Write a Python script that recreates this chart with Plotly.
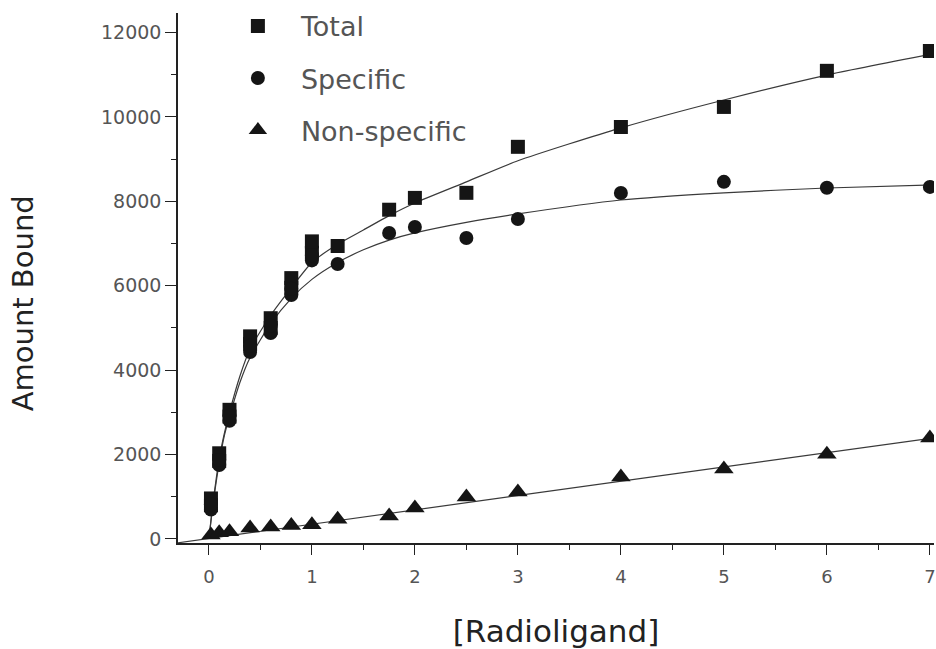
import plotly.graph_objects as go

# ---- data ----
x_total = [0.02, 0.02, 0.1, 0.1, 0.2, 0.2, 0.4, 0.4, 0.6, 0.6, 0.8, 0.8, 1.0, 1.0,
           1.25, 1.75, 2.0, 2.5, 3.0, 4.0, 5.0, 6.0, 7.0]
y_total = [800, 960, 1850, 2030, 2900, 3060, 4620, 4800, 5000, 5230, 5950, 6180, 6780, 7050,
           6940, 7800, 8080, 8200, 9290, 9760, 10235, 11090, 11560]

x_spec = [0.02, 0.02, 0.1, 0.1, 0.2, 0.2, 0.4, 0.4, 0.6, 0.6, 0.8, 0.8, 1.0, 1.0,
          1.25, 1.75, 2.0, 2.5, 3.0, 4.0, 5.0, 6.0, 7.0]
y_spec = [700, 820, 1750, 1870, 2800, 2920, 4430, 4580, 4880, 5050, 5780, 5930, 6600, 6720,
          6515, 7250, 7390, 7130, 7580, 8195, 8460, 8320, 8340]

x_ns = [0.02, 0.1, 0.2, 0.4, 0.6, 0.8, 1.0, 1.25, 1.75, 2.0, 2.5, 3.0, 4.0, 5.0, 6.0, 7.0]
y_ns = [95, 150, 170, 260, 285, 320, 340, 470, 545, 735, 995, 1115, 1470, 1660, 2010, 2390]

# fitted curves
curve_x = [0, 0.02, 0.05, 0.1, 0.15, 0.2, 0.3, 0.4, 0.6, 0.8, 1.0, 1.25, 1.5, 1.75,
           2.0, 2.5, 3.0, 4.0, 5.0, 6.0, 7.05]
curve_total = [0, 450, 1050, 1900, 2500, 3000, 3850, 4500, 5300, 5950, 6550, 6980, 7320, 7660,
               7960, 8460, 8960, 9740, 10400, 10990, 11500]
curve_spec = [0, 420, 1000, 1800, 2450, 2900, 3700, 4300, 5100, 5700, 6150, 6550, 6850, 7080,
              7250, 7500, 7700, 8030, 8200, 8315, 8390]
ns_line_x = [-0.3, 7.05]
ns_line_y = [-90, 2400]

x_ticks = [0, 1, 2, 3, 4, 5, 6, 7]
y_ticks = [0, 2000, 4000, 6000, 8000, 10000, 12000]

names = ["Total", "Specific", "Non-specific"]
x_title = "[Radioligand]"
y_title = "Amount Bound"

INK = "#151515"
LINE = "#3a3a3a"
TXT = "#555555"
FONT = "DejaVu Sans, Liberation Sans, Arial, sans-serif"

fig = go.Figure()

for cx, cy in [(curve_x, curve_total), (curve_x, curve_spec), (ns_line_x, ns_line_y)]:
    fig.add_trace(go.Scatter(x=cx, y=cy, mode="lines",
                             line=dict(color=LINE, width=1.2, shape="spline", smoothing=0.6),
                             showlegend=False, hoverinfo="skip"))

fig.add_trace(go.Scatter(x=x_total, y=y_total, mode="markers", name=names[0], legendgroup="a",
                         marker=dict(symbol="square", size=14, color=INK)))
fig.add_trace(go.Scatter(x=x_spec, y=y_spec, mode="markers", name=names[1], legendgroup="b",
                         marker=dict(symbol="circle", size=14, color=INK)))
fig.add_trace(go.Scatter(x=x_ns, y=y_ns, mode="markers", name=names[2], legendgroup="c",
                         marker=dict(symbol="triangle-up", size=17, color=INK)))

fig.update_layout(
    width=936, height=649,
    margin=dict(l=178, r=0, t=13, b=106),
    paper_bgcolor="white", plot_bgcolor="white",
    font=dict(family=FONT, color=TXT),
    showlegend=True,
    legend=dict(x=0.0488, y=1.021, xanchor="left", yanchor="top", bgcolor="rgba(0,0,0,0)",
                font=dict(size=27, color=TXT), tracegroupgap=14, itemwidth=76),
    annotations=[dict(text=y_title, textangle=-90, xref="paper", yref="paper",
                      x=-0.2045, y=0.453, xanchor="center", yanchor="middle", showarrow=False,
                      font=dict(size=29, color="#222", family=FONT))],
)
fig.update_xaxes(
    range=[-0.3, 7.04], tickvals=x_ticks, ticktext=[str(v) for v in x_ticks],
    showgrid=False, zeroline=False, showline=True, linecolor="#222", linewidth=1.5,
    ticks="outside", ticklen=10, tickwidth=1.3, tickcolor="#222",
    tickfont=dict(size=18, color=TXT), ticklabeloverflow="allow", ticklabelstandoff=7,
    minor=dict(dtick=0.5, tick0=0, ticks="outside", ticklen=5, tickcolor="#222", showgrid=False),
    title=dict(text=x_title, font=dict(size=31, color="#222"), standoff=35),
)
fig.update_yaxes(
    range=[-95, 12460], tickvals=y_ticks, ticktext=[str(v) for v in y_ticks],
    showgrid=False, zeroline=False, showline=True, linecolor="#222", linewidth=1.5,
    ticks="outside", ticklen=11, tickwidth=1.3, tickcolor="#222",
    tickfont=dict(size=19, color=TXT),
    minor=dict(dtick=1000, tick0=0, ticks="outside", ticklen=5, tickcolor="#222", showgrid=False),
)

fig.write_html("out.html")
